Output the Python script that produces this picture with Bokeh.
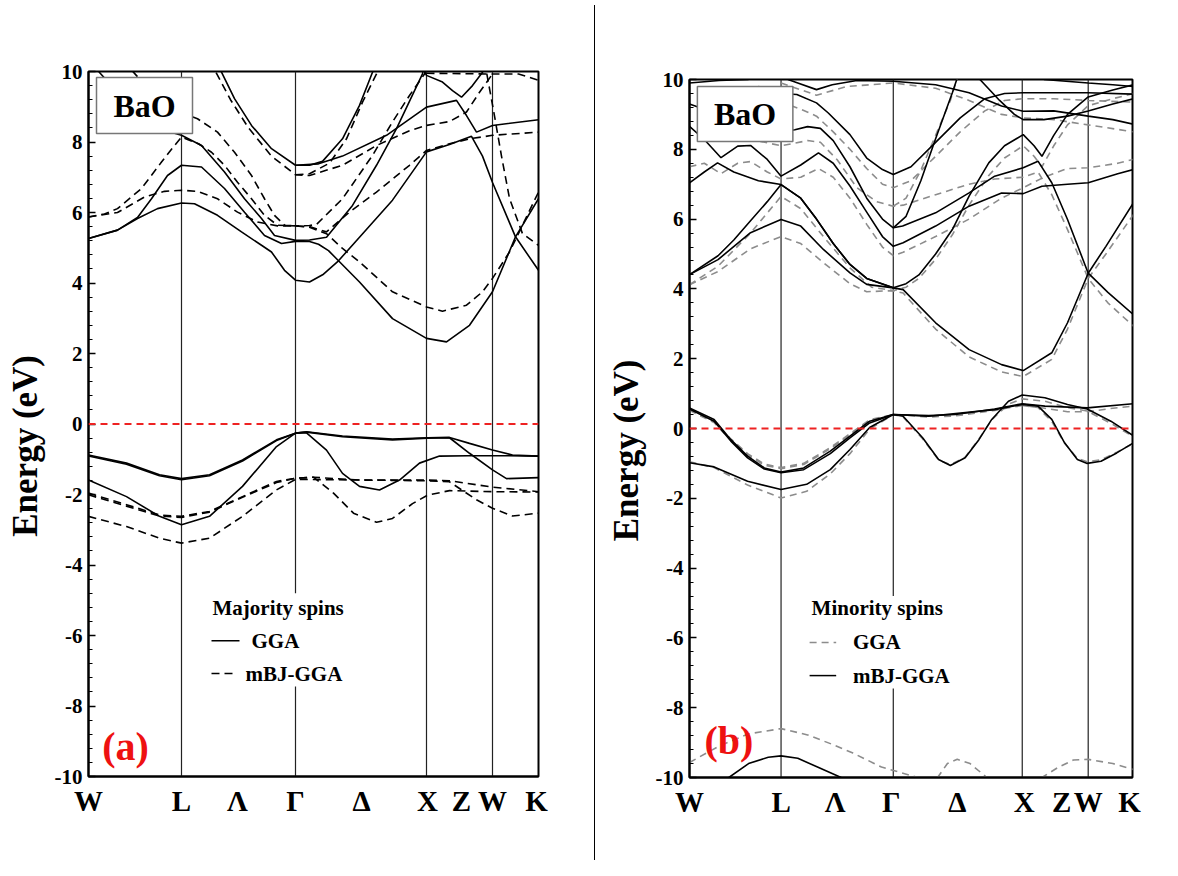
from bokeh.plotting import figure
from bokeh.models import FixedTicker, Span, Div, Range1d
from bokeh.layouts import row, column
from bokeh.embed import file_html
from bokeh.resources import INLINE
from bokeh.core.properties import value

SERIF = "Liberation Serif"

# ---------------- data ----------------
# k-path positions (path length units) for each panel
a_sym_k = [0.93, 2.07, 3.38, 4.04]
a_label_k = [0.0, 0.93, 1.49, 2.07, 2.73, 3.39, 3.73, 4.04, 4.48]
b_sym_k = [0.93, 2.07, 3.38, 4.05]
b_label_k = [0.0, 0.93, 1.48, 2.05, 2.72, 3.40, 3.78, 4.05, 4.47]
k_labels = ["W", "L", "Λ", "Γ", "Δ", "X", "Z", "W", "K"]
y_ticks = [-10, -8, -6, -4, -2, 0, 2, 4, 6, 8, 10]

# Panel (a): majority spins, GGA (solid)
maj_gga_bands = [
    [(0.0,-0.88),(0.38,-1.11),(0.71,-1.44),(0.93,-1.55),(1.21,-1.44),(1.54,-1.02),(1.88,-0.45),(2.07,-0.26),(2.18,-0.22),(2.54,-0.34),(3.04,-0.43),(3.39,-0.39),(3.61,-0.38),(3.81,-0.55),(4.04,-0.74),(4.24,-0.88),(4.50,-0.91)],
    [(0.0,-0.91),(0.38,-1.14),(0.71,-1.47),(0.93,-1.58),(1.21,-1.47),(1.54,-1.05),(1.88,-0.47),(2.07,-0.26),(2.18,-0.25),(2.38,-0.74),(2.54,-1.40),(2.71,-1.77),(2.91,-1.87),(3.11,-1.59),(3.31,-1.11),(3.51,-0.91),(3.8,-0.9),(4.2,-0.9),(4.50,-0.91)],
    [(0.0,-1.59),(0.38,-2.06),(0.71,-2.62),(0.93,-2.86),(1.21,-2.62),(1.54,-1.77),(1.88,-0.64),(2.07,-0.26),(2.18,-0.23),(2.54,-0.36),(3.04,-0.45),(3.39,-0.40),(3.61,-0.39),(3.81,-0.83),(4.04,-1.30),(4.18,-1.55),(4.50,-1.52)],
    [(0.0,5.26),(0.29,5.50),(0.49,5.83),(0.69,6.11),(0.93,6.27),(1.06,6.25),(1.29,5.92),(1.53,5.45),(1.73,5.07),(1.83,4.88),(1.96,4.36),(2.07,4.08),(2.21,4.03),(2.35,4.25),(2.50,4.63),(2.71,5.30),(3.04,6.35),(3.38,7.72),(3.61,7.93),(3.83,8.16),(3.94,7.60),(4.04,6.85),(4.27,5.31),(4.50,4.36)],
    [(0.0,5.26),(0.29,5.50),(0.49,5.86),(0.63,6.39),(0.79,7.05),(0.93,7.34),(1.13,7.29),(1.36,6.68),(1.56,6.01),(1.76,5.35),(1.93,5.12),(2.07,5.18),(2.21,5.18),(2.30,5.10),(2.40,4.92),(2.50,4.63),(2.71,4.03),(3.04,2.99),(3.38,2.43),(3.58,2.33),(3.81,2.80),(4.04,3.75),(4.27,5.31),(4.50,6.39)],
    [(0.05,10.3),(0.11,9.97),(0.21,9.66),(0.5,8.9),(0.8,8.3),(0.93,8.19),(1.13,7.90),(1.36,7.15),(1.56,6.39),(1.73,5.83),(1.86,5.35),(2.07,5.21),(2.21,5.22),(2.38,5.30),(2.64,6.20),(2.88,7.34),(3.08,8.38),(3.34,9.93),(3.36,10.3)],
    [(1.27,10.3),(1.33,9.98),(1.46,9.23),(1.63,8.47),(1.83,7.81),(2.07,7.34),(2.21,7.34),(2.34,7.45),(2.54,8.09),(2.71,9.04),(2.84,9.98),(2.87,10.3)],
    [(2.07,7.34),(2.30,7.38),(2.54,7.60),(2.98,8.19),(3.38,8.99),(3.68,9.18),(3.78,8.75),(3.88,8.28),(4.04,8.47),(4.50,8.63)],
    [(3.30,10.3),(3.38,9.89),(3.54,9.70),(3.64,9.46),(3.73,9.27),(3.84,9.60),(3.94,9.98),(3.97,10.3)],
]

# Panel (a): majority spins, mBJ-GGA (dashed)
maj_mbj_bands = [
    [(0.0,-1.96),(0.38,-2.29),(0.71,-2.58),(0.93,-2.62),(1.21,-2.48),(1.54,-2.06),(1.88,-1.63),(2.07,-1.54),(2.25,-1.51),(2.71,-1.59),(3.39,-1.59),(3.61,-1.61),(4.04,-1.79),(4.50,-1.92)],
    [(0.0,-2.01),(0.38,-2.33),(0.71,-2.61),(0.93,-2.65),(1.21,-2.50),(1.54,-2.08),(1.88,-1.66),(2.07,-1.54),(2.25,-1.51),(2.45,-1.96),(2.65,-2.53),(2.88,-2.79),(3.04,-2.68),(3.24,-2.26),(3.39,-2.02),(3.61,-1.89),(4.04,-1.92),(4.50,-1.93)],
    [(0.0,-2.62),(0.38,-2.91),(0.71,-3.24),(0.93,-3.38),(1.21,-3.24),(1.54,-2.62),(1.88,-1.87),(2.07,-1.57),(2.71,-1.59),(3.39,-1.61),(3.61,-1.64),(3.88,-2.15),(4.04,-2.39),(4.24,-2.61),(4.50,-2.53)],
    [(0.0,5.87),(0.16,5.96),(0.29,6.11),(0.53,6.68),(0.73,7.43),(0.86,7.90),(0.93,8.14),(1.10,7.95),(1.23,7.71),(1.36,7.34),(1.49,6.86),(1.63,6.39),(1.76,5.92),(1.89,5.64),(2.07,5.62),(2.21,5.63),(2.28,5.66),(2.54,6.39),(2.84,7.62),(3.04,8.57),(3.21,9.32),(3.36,9.93),(3.40,10.3)],
    [(0.0,5.87),(0.29,6.0),(0.56,6.44),(0.76,6.60),(0.93,6.63),(1.09,6.60),(1.29,6.39),(1.49,6.01),(1.69,5.73),(1.89,5.62),(2.07,5.62),(2.21,5.58),(2.38,5.40),(2.54,4.98),(2.71,4.60),(3.04,3.75),(3.38,3.32),(3.54,3.20),(3.78,3.37),(3.94,3.75),(4.04,4.13),(4.21,4.88),(4.34,5.64),(4.50,6.58)],
    [(0.35,10.3),(0.6,9.5),(0.85,8.9),(1.09,8.66),(1.29,8.28),(1.46,7.71),(1.63,7.05),(1.76,6.39),(1.86,5.92),(1.96,5.64),(2.07,5.62),(2.21,5.60),(2.38,5.45),(2.61,6.01),(2.88,6.58),(3.21,7.34),(3.38,7.76),(3.61,7.95),(3.81,8.09),(4.04,8.19),(4.50,8.28)],
    [(1.22,10.3),(1.27,10.0),(1.42,9.2),(1.60,8.4),(1.83,7.6),(2.07,7.07),(2.21,7.05),(2.54,7.34),(2.88,7.90),(3.21,8.32),(3.38,8.47),(3.61,8.58),(3.78,8.85),(3.91,9.41),(4.04,9.93),(4.08,10.3)],
    [(2.07,7.07),(2.21,7.10),(2.41,7.40),(2.58,8.09),(2.74,9.13),(2.88,9.93),(2.92,10.3)],
    [(3.96,10.3),(3.98,9.98),(4.05,8.9),(4.13,7.6),(4.21,6.4),(4.34,5.4),(4.50,5.07)],
    [(3.38,9.95),(4.0,9.93),(4.3,9.93),(4.50,9.75)],
]

# Panel (b): minority spins, GGA (grey dashed)
min_gga_bands = [
    [(0,0.55),(0.25,0.2),(0.42,-0.3),(0.59,-0.72),(0.76,-1.02),(0.93,-1.12),(1.16,-1.0),(1.43,-0.55),(1.63,-0.15),(1.83,0.25),(2.07,0.40),(2.43,0.33),(2.70,0.36),(3.10,0.52),(3.38,0.66),(3.61,0.58),(3.84,0.48),(4.04,0.48),(4.30,0.58),(4.51,0.64)],
    [(0,-0.95),(0.25,-1.12),(0.59,-1.62),(0.93,-1.99),(1.19,-1.8),(1.43,-1.3),(1.63,-0.72),(1.83,-0.02),(2.07,0.40),(2.17,0.33),(2.37,-0.3),(2.53,-0.9),(2.65,-1.04),(2.80,-0.82),(2.94,-0.3),(3.07,0.25),(3.24,0.7),(3.38,0.85),(3.61,0.78),(3.84,0.6),(4.04,0.5),(4.28,0.15),(4.51,-0.24)],
    [(3.38,0.66),(3.54,0.6),(3.68,0.2),(3.81,-0.42),(3.94,-0.86),(4.04,-0.95),(4.18,-0.9),(4.34,-0.68),(4.51,-0.43)],
    [(0,0.52),(0.25,0.17),(0.42,-0.34),(0.59,-0.76),(0.76,-1.05),(0.93,-1.15),(1.16,-1.03),(1.43,-0.58),(1.63,-0.18),(1.83,0.22),(2.07,0.40)],
    [(0,-9.57),(0.3,-9.1),(0.6,-8.75),(0.93,-8.6),(1.2,-8.78),(1.45,-9.05),(1.66,-9.3),(1.95,-9.7),(2.32,-10.0),(2.4,-10.3)],
    [(2.45,-10.3),(2.52,-10.0),(2.62,-9.6),(2.72,-9.48),(2.85,-9.6),(3.02,-10.0),(3.1,-10.3)],
    [(3.50,-10.3),(3.58,-10.0),(3.75,-9.7),(3.9,-9.5),(4.05,-9.48),(4.3,-9.6),(4.51,-9.77)],
    [(0,4.12),(0.29,4.5),(0.62,5.15),(0.93,5.50),(1.13,5.30),(1.36,4.75),(1.63,4.15),(1.80,3.92),(2.07,3.95),(2.17,3.88),(2.50,2.85),(2.84,2.05),(3.17,1.62),(3.39,1.49),(3.68,1.98),(3.84,2.85),(4.05,4.3),(4.23,5.0),(4.51,6.13)],
    [(0,4.12),(0.29,4.65),(0.62,5.6),(0.93,6.65),(1.13,6.3),(1.36,5.5),(1.63,4.6),(1.85,4.05),(2.07,3.95),(2.20,4.05),(2.33,4.3),(2.50,4.85),(2.67,5.55),(2.84,6.4),(3.04,7.25),(3.2,7.75),(3.39,8.1),(3.5,7.8),(3.58,7.5),(3.7,8.1),(3.84,8.7),(4.05,9.25),(4.3,9.45),(4.51,9.6)],
    [(0,7.5),(0.15,7.6),(0.32,7.3),(0.49,7.6),(0.62,7.65),(0.79,7.35),(0.93,7.15),(1.13,7.2),(1.31,7.45),(1.46,7.2),(1.63,6.6),(1.80,5.85),(1.96,5.2),(2.07,4.95),(2.17,5.05),(2.50,5.5),(2.84,6.0),(3.17,6.6),(3.39,6.9),(3.6,7.2),(3.84,7.45),(4.05,7.47),(4.35,7.6),(4.51,7.71)],
    [(0.6,8.3),(0.93,8.1),(1.2,8.25),(1.33,8.2),(1.5,7.7),(1.7,6.9),(1.9,6.5),(2.07,6.37),(2.17,6.4),(2.50,6.7),(2.84,7.0),(3.1,7.15),(3.39,7.2),(3.54,7.35),(3.68,6.7),(3.84,5.7),(4.05,4.3),(4.25,3.6),(4.51,2.93)],
    [(2.07,6.37),(2.2,6.6),(2.35,7.4),(2.5,8.4),(2.65,9.4),(2.75,10.3)],
    [(0.7,9.7),(0.93,9.35),(1.13,9.15),(1.29,8.95),(1.46,8.5),(1.63,8.0),(1.8,7.45),(1.96,7.0),(2.07,6.9),(2.25,7.1),(2.5,7.8),(2.75,8.5),(3.0,9.1),(3.2,9.4),(3.39,9.45),(3.7,9.45),(4.05,9.4),(4.51,9.35)],
    [(0.93,9.9),(1.29,9.55),(1.6,9.8),(2.07,9.9),(2.5,9.75),(2.84,9.4),(3.17,9.0),(3.39,8.9),(3.7,8.85),(4.05,8.7),(4.51,8.5)],
]

# Panel (b): minority spins, mBJ-GGA (black solid)
min_mbj_bands = [
    [(0,0.59),(0.25,0.26),(0.42,-0.32),(0.59,-0.79),(0.76,-1.13),(0.93,-1.25),(1.16,-1.13),(1.43,-0.65),(1.63,-0.22),(1.83,0.21),(2.07,0.40),(2.43,0.37),(2.70,0.40),(3.10,0.56),(3.38,0.71),(3.61,0.64),(4.04,0.59),(4.51,0.71)],
    [(0,0.56),(0.25,0.21),(0.42,-0.36),(0.59,-0.84),(0.76,-1.16),(0.93,-1.27),(1.16,-1.18),(1.43,-0.72),(1.63,-0.27),(1.83,0.16),(2.07,0.40),(2.17,0.35),(2.37,-0.27),(2.53,-0.89),(2.65,-1.06),(2.80,-0.84),(2.94,-0.32),(3.07,0.26),(3.24,0.78),(3.38,0.96),(3.61,0.88),(3.84,0.69),(4.04,0.56),(4.28,0.21),(4.51,-0.21)],
    [(0,-0.98),(0.25,-1.1),(0.59,-1.51),(0.93,-1.75),(1.19,-1.6),(1.43,-1.18),(1.63,-0.6),(1.83,0.03),(2.07,0.40),(2.43,0.35),(3.10,0.54),(3.38,0.69),(3.54,0.64),(3.68,0.26),(3.81,-0.41),(3.94,-0.89),(4.04,-1.0),(4.18,-0.94),(4.34,-0.70),(4.51,-0.41)],
    [(0.30,-10.3),(0.40,-10.0),(0.6,-9.6),(0.8,-9.42),(0.93,-9.38),(1.1,-9.45),(1.3,-9.7),(1.54,-10.0),(1.65,-10.3)],
    [(0,4.41),(0.29,4.84),(0.62,5.61),(0.93,5.99),(1.13,5.80),(1.36,5.13),(1.63,4.46),(1.80,4.13),(2.07,4.03),(2.17,3.98),(2.50,3.03),(2.84,2.26),(3.17,1.83),(3.39,1.66),(3.68,2.17),(3.84,3.03),(4.05,4.45),(4.23,5.22),(4.51,6.47)],
    [(0,4.41),(0.29,4.95),(0.45,5.4),(0.62,5.95),(0.79,6.5),(0.93,6.99),(1.13,6.6),(1.29,6.0),(1.46,5.3),(1.63,4.7),(1.80,4.3),(2.07,4.03),(2.20,4.15),(2.33,4.4),(2.50,5.0),(2.67,5.7),(2.84,6.66),(3.04,7.61),(3.2,8.1),(3.39,8.42),(3.5,8.1),(3.58,7.8),(3.7,8.4),(3.84,9.0),(4.05,9.5),(4.3,9.7),(4.51,9.85)],
    [(0,7.04),(0.15,7.35),(0.285,7.61),(0.45,7.35),(0.7,7.1),(0.93,6.99),(1.13,6.6),(1.29,6.0),(1.46,5.3),(1.63,4.7),(1.80,4.3),(2.07,4.03)],
    [(0,8.66),(0.15,8.28),(0.32,7.76),(0.49,8.09),(0.62,8.11),(0.79,7.71),(0.93,7.23),(1.13,7.55),(1.31,7.9),(1.46,7.6),(1.63,6.95),(1.80,6.2),(1.96,5.5),(2.07,5.22),(2.17,5.32),(2.50,5.8),(2.84,6.37),(3.17,6.75),(3.39,6.73),(3.58,6.94),(3.84,7.0),(4.05,7.04),(4.35,7.3),(4.51,7.42)],
    [(0,9.3),(0.3,9.0),(0.6,8.7),(0.93,8.5),(1.07,8.56),(1.2,8.65),(1.33,8.6),(1.46,8.25),(1.63,7.5),(1.80,6.6),(1.96,6.0),(2.07,5.75),(2.165,5.8),(2.50,6.18),(2.84,6.75),(3.10,7.23),(3.39,7.47),(3.54,7.66),(3.68,7.04),(3.84,5.99),(4.05,4.45),(4.25,3.9),(4.51,3.26)],
    [(2.07,5.75),(2.2,6.08),(2.35,7.1),(2.5,8.3),(2.67,9.62),(2.75,10.3)],
    [(0.7,9.8),(0.93,9.6),(1.09,9.57),(1.29,9.33),(1.41,9.04),(1.63,8.42),(1.80,7.75),(1.96,7.42),(2.07,7.28),(2.25,7.5),(2.5,8.2),(2.75,8.9),(3.0,9.45),(3.2,9.6),(3.39,9.62),(3.7,9.62),(4.05,9.62),(4.51,9.58)],
    [(1.0,10.0),(1.1,9.9),(1.29,9.71),(1.45,9.85),(1.7,9.97),(2.07,9.95),(2.5,9.85),(2.84,9.62),(3.17,9.24),(3.39,9.09),(3.7,9.1),(4.05,8.95),(4.3,8.85),(4.51,8.72)],
    [(2.95,10.0),(3.15,9.4),(3.3,9.0),(3.39,8.85),(3.6,8.85),(3.84,8.95),(4.05,9.1),(4.3,9.3),(4.51,9.45)],
    [(0,9.9),(0.3,9.97),(0.6,10.0)],
    [(3.6,10.0),(4.05,9.9),(4.3,9.85),(4.51,9.8)],
]

K_SCALE = 100.0  # path units -> axis units


def draw_bands(p, bands, color, dash, width):
    xs = [[k * K_SCALE for k, e in b] for b in bands]
    ys = [[e for k, e in b] for b in bands]
    p.multi_line(xs, ys, line_color=color, line_dash=dash, line_width=width)


def make_panel(width, height, borders, sym_k, label_k):
    left, right, top, bottom = borders
    p = figure(width=width, height=height, output_backend="svg", toolbar_location=None,
               x_range=Range1d(0, 450), y_range=Range1d(-10, 10),
               min_border_left=left, min_border_right=right,
               min_border_top=top, min_border_bottom=bottom)
    p.xgrid.visible = False
    p.ygrid.visible = False
    p.background_fill_color = "white"
    p.border_fill_color = "white"
    p.outline_line_color = "black"
    p.outline_line_width = 2
    # x axis: high-symmetry labels
    ticks = [round(k * K_SCALE) for k in label_k]
    p.xaxis.ticker = FixedTicker(ticks=ticks)
    p.xaxis.major_label_overrides = {t: lab for t, lab in zip(ticks, k_labels)}
    p.xaxis.major_tick_in = 0
    p.xaxis.major_tick_out = 0
    p.xaxis.minor_tick_line_color = None
    p.xaxis.axis_line_width = 2
    p.xaxis.major_label_text_font = SERIF
    p.xaxis.major_label_text_font_style = "bold"
    p.xaxis.major_label_text_font_size = "29px"
    p.xaxis.major_label_text_color = "black"
    p.xaxis.major_label_standoff = 8
    # y axis
    minor = [round(-10 + 0.4 * i, 2) for i in range(51)]
    p.yaxis.ticker = FixedTicker(ticks=y_ticks, minor_ticks=minor)
    p.yaxis.major_label_overrides = {t: str(t) for t in y_ticks}
    p.yaxis.major_tick_in = 7
    p.yaxis.major_tick_out = 0
    p.yaxis.minor_tick_in = 4
    p.yaxis.minor_tick_out = 0
    p.yaxis.major_tick_line_width = 1.5
    p.yaxis.axis_line_width = 2
    p.yaxis.major_label_text_font = SERIF
    p.yaxis.major_label_text_font_style = "bold"
    p.yaxis.major_label_text_font_size = "21px"
    p.yaxis.major_label_text_color = "black"
    p.yaxis.major_label_standoff = 6
    p.yaxis.axis_label = "Energy (eV)" + "\u00a0" * 5
    p.yaxis.axis_label_text_font = SERIF
    p.yaxis.axis_label_text_font_style = "bold"
    p.yaxis.axis_label_text_font_size = "35px"
    p.yaxis.axis_label_text_color = "black"
    p.yaxis.axis_label_standoff = 7
    # vertical high-symmetry lines
    xs = [k * K_SCALE for k in sym_k]
    p.segment(x0=xs, x1=xs, y0=[-10] * len(xs), y1=[10] * len(xs),
              line_color="#222222", line_width=1.2)
    return p


def decorate(p, box, label, label_pos, legend, legend_samples):
    # Fermi level
    p.add_layout(Span(location=0, dimension="width", line_color="#ee2222",
                      line_dash="7 5", line_width=1.8))
    # BaO box
    p.quad(left=[box[0] * K_SCALE], right=[box[1] * K_SCALE], bottom=[box[2]], top=[box[3]],
           fill_color="white", line_color="#777777", line_width=1.5)
    p.text(x=[(box[0] + box[1]) / 2 * K_SCALE], y=[(box[2] + box[3]) / 2], text=["BaO"],
           text_font=value(SERIF), text_font_style="bold", text_font_size="32px",
           text_align="center", text_baseline="middle", text_color="black")
    # panel label
    p.text(x=[label_pos[0] * K_SCALE], y=[label_pos[1]], text=[label],
           text_font=value(SERIF), text_font_style="bold", text_font_size="40px",
           text_align="center", text_baseline="middle", text_color="#ee1111")
    # legend
    p.quad(left=[1.15 * K_SCALE], right=[2.95 * K_SCALE], bottom=[-7.45], top=[-4.8],
           fill_color="white", line_color=None)
    title, entries = legend
    p.text(x=[title[1] * K_SCALE], y=[title[2]], text=[title[0]],
           text_font=value(SERIF), text_font_style="bold", text_font_size="21px",
           text_align="left", text_baseline="middle", text_color="black")
    for (txt, tx, ty), (x0, x1, color, dash) in zip(entries, legend_samples):
        p.segment(x0=[x0 * K_SCALE], x1=[x1 * K_SCALE], y0=[ty], y1=[ty],
                  line_color=color, line_dash=dash, line_width=1.5)
        p.text(x=[tx * K_SCALE], y=[ty], text=[txt],
               text_font=value(SERIF), text_font_style="bold", text_font_size="21px",
               text_align="left", text_baseline="middle", text_color="black")


# ---------------- panel (a) ----------------
pa = make_panel(589, 855, (88, 51, 71, 79), a_sym_k, a_label_k)
draw_bands(pa, maj_gga_bands, "black", "solid", 1.6)
draw_bands(pa, maj_mbj_bands, "black", "8 5", 1.6)
decorate(pa, (0.08, 1.04, 8.24, 9.83), "(a)", (0.37, -9.15),
         (("Majority spins", 1.24, -5.21),
          [("GGA", 1.63, -6.15), ("mBJ-GGA", 1.57, -7.08)]),
         [(1.23, 1.51, "black", "solid"), (1.23, 1.46, "black", "8 5")])

# ---------------- panel (b) ----------------
pb = make_panel(568, 855, (89, 36, 79, 78), b_sym_k, b_label_k)
draw_bands(pb, min_gga_bands, "#8c8c8c", "7 5", 1.6)
draw_bands(pb, min_mbj_bands, "black", "solid", 1.6)
decorate(pb, (0.08, 1.05, 8.22, 9.80), "(b)", (0.40, -8.95),
         (("Minority spins", 1.24, -5.13),
          [("GGA", 1.66, -6.13), ("mBJ-GGA", 1.66, -7.08)]),
         [(1.22, 1.49, "#8c8c8c", "7 5"), (1.22, 1.49, "black", "solid")])

sep = Div(text="", width=1, height=855, styles={"background-color": "black"})

layout = row(column(pa), sep, column(pb))
open("out.html", "w").write(file_html(layout, INLINE))
